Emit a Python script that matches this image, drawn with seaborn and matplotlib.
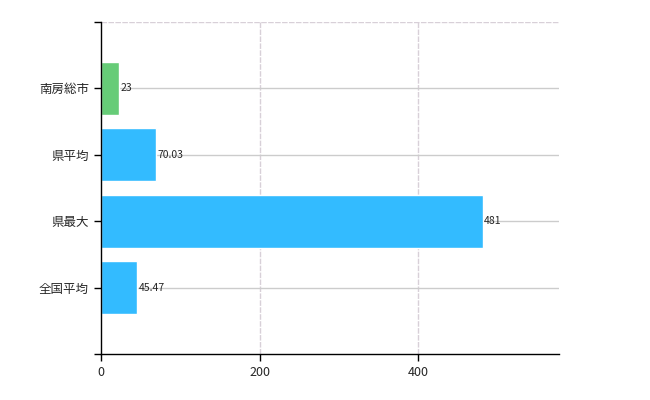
import matplotlib
matplotlib.use("Agg")
import matplotlib.pyplot as plt
import seaborn as sns
import pandas as pd

categories = ["南房総市", "県平均", "県最大", "全国平均"]
values = [23, 70.03, 481, 45.47]
labels = ["23", "70.03", "481", "45.47"]
colors = ["#66cc77", "#33bbff", "#33bbff", "#33bbff"]

sns.set_style("white")
plt.rcParams['font.family'] = ['Noto Sans CJK JP', 'DejaVu Sans']

df = pd.DataFrame({"cat": categories, "val": values})
fig, ax = plt.subplots(figsize=(6.5, 4), dpi=100)
fig.subplots_adjust(left=0.155, right=0.86, top=0.945, bottom=0.115)

sns.barplot(data=df, x="val", y="cat", hue="cat", palette=colors, legend=False,
            width=0.8, saturation=1, ax=ax, zorder=2)

for i, (v, t) in enumerate(zip(values, labels)):
    ax.text(v + 2, i, t, va="center", ha="left", fontsize=7.5, family=['Noto Sans CJK JP', 'DejaVu Sans'])

ax.set_xlim(0, 577.2)
ax.set_ylim(4, -1)
ax.set_xticks([0, 200, 400])
ax.set_yticks([-1, 0, 1, 2, 3, 4])
ax.set_yticklabels([""] + categories + [""])
ax.set_xlabel("")
ax.set_ylabel("")
ax.tick_params(axis="both", length=5, width=1, color="black", labelsize=9, left=True, bottom=True)

for x in [200, 400]:
    ax.axvline(x, color="#d8d0d8", lw=1, ls=(0, (4, 1)), zorder=0)
ax.axhline(-1, color="#d8d0d8", lw=1, ls=(0, (4, 1)), zorder=0)
for y in range(4):
    ax.axhline(y, color="#cccccc", lw=1, zorder=0)

for s in ["top", "right"]:
    ax.spines[s].set_visible(False)
for s in ["left", "bottom"]:
    ax.spines[s].set_color("black")
    ax.spines[s].set_linewidth(1)

fig.savefig("out.png", dpi=100)
